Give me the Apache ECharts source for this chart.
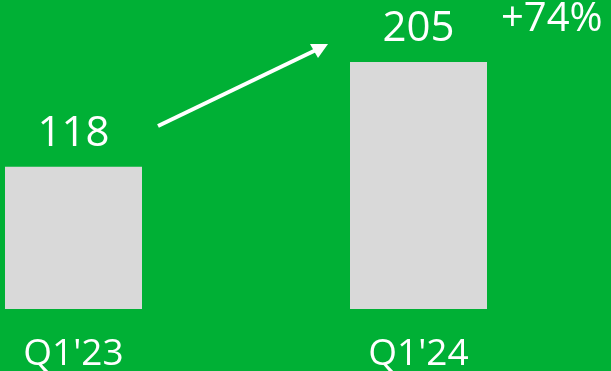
<!DOCTYPE html>
<html>
<head>
<meta charset="utf-8">
<script src="https://cdn.jsdelivr.net/npm/echarts@6/dist/echarts.min.js"></script>
<style>
  html, body { margin: 0; padding: 0; background: #00B035; }
  #chart { width: 611px; height: 371px; }
</style>
</head>
<body>
<div id="chart"></div>
<script>
// Quarterly totals
const quarters = ["Q1'23", "Q1'24"];
const totals = [118, 205];
const growthLabel = '+74%';

const chart = echarts.init(document.getElementById('chart'), null, { renderer: 'canvas' });
const FONT = '"Open Sans", "Noto Sans", sans-serif';

chart.setOption({
  backgroundColor: '#00B035',
  animation: false,
  grid: { left: -99, width: 690, top: 62, bottom: 62, outerBoundsMode: 'none', containLabel: false },
  xAxis: {
    type: 'category',
    data: quarters,
    axisLine: { show: false },
    axisTick: { show: false },
    axisLabel: {
      color: '#ffffff',
      fontFamily: FONT,
      fontSize: 37,
      margin: 27
    }
  },
  yAxis: {
    type: 'value',
    min: 0,
    max: 205,
    show: false,
    splitLine: { show: false }
  },
  series: [{
    type: 'bar',
    data: totals,
    barWidth: 137,
    itemStyle: { color: '#D9D9D9' },
    label: {
      show: true,
      position: 'top',
      distance: 12,
      color: '#ffffff',
      fontFamily: FONT,
      fontSize: 42
    }
  }],
  graphic: [
    {
      type: 'line',
      shape: { x1: 158, y1: 126, x2: 316, y2: 50 },
      style: { stroke: '#ffffff', lineWidth: 4 }
    },
    {
      type: 'polygon',
      shape: { points: [[310, 44], [318, 58], [328, 44]] },
      style: { fill: '#ffffff' }
    },
    {
      type: 'text',
      left: 501,
      top: 0,
      style: {
        text: growthLabel,
        fill: '#ffffff',
        font: '40px ' + FONT
      }
    }
  ]
});
</script>
</body>
</html>
